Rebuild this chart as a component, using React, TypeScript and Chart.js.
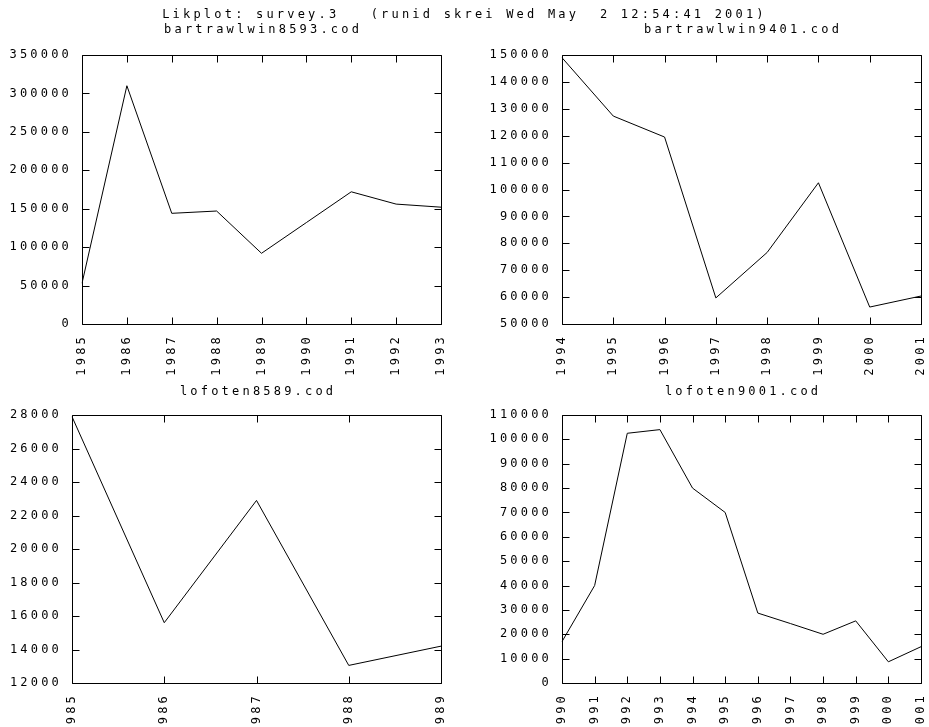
import React, { useEffect, useRef } from "react";
import { Chart, registerables } from "chart.js";

Chart.register(...registerables);

// ---------- data ----------
const MAIN_TITLE = "Likplot: survey.3   (runid skrei Wed May  2 12:54:41 2001)";

const tlTitle = "bartrawlwin8593.cod";
const tlYears = ["1985", "1986", "1987", "1988", "1989", "1990", "1991", "1992", "1993"];
const tlValues = [53000, 310000, 144000, 147000, 92000, 132000, 172000, 156000, 152000];
const tlYRange = [0, 350000, 50000];

const trTitle = "bartrawlwin9401.cod";
const trYears = ["1994", "1995", "1996", "1997", "1998", "1999", "2000", "2001"];
const trValues = [149000, 127300, 119500, 59700, 76600, 102500, 56300, 60400];
const trYRange = [50000, 150000, 10000];

const blTitle = "lofoten8589.cod";
const blYears = ["1985", "1986", "1987", "1988", "1989"];
const blValues = [27900, 15600, 22900, 13050, 14200];
const blYRange = [12000, 28000, 2000];

const brTitle = "lofoten9001.cod";
const brYears = ["1990", "1991", "1992", "1993", "1994", "1995", "1996", "1997", "1998", "1999", "2000", "2001"];
const brValues = [17000, 40000, 102500, 104000, 80000, 70000, 28700, 24400, 20000, 25500, 8700, 14900];
const brYRange = [0, 110000, 10000];

// ---------- styling ----------
const FONT_FAMILY = '"DejaVu Sans Mono", "Liberation Mono", monospace';
const FONT_SIZE = 12;
const LS = 3.2; // letter spacing px
const TICK_LEN = 7;

const spacingPlugin = {
  id: "gnuSpacing",
  beforeUpdate(chart: any) {
    chart.ctx.letterSpacing = LS + "px";
  },
  beforeLayout(chart: any) {
    chart.ctx.letterSpacing = LS + "px";
  },
  beforeDraw(chart: any) {
    chart.ctx.letterSpacing = LS + "px";
  },
};

const framePlugin = {
  id: "gnuFrame",
  afterDatasetsDraw(chart: any) {
    const { ctx, chartArea: a, scales } = chart;
    const al = (v: number) => Math.round(v) + 0.5;
    const L = al(a.left), R = al(a.right), T = al(a.top), B = al(a.bottom);
    ctx.save();
    ctx.strokeStyle = "#000";
    ctx.lineWidth = 1;
    ctx.beginPath();
    ctx.rect(L, T, R - L, B - T);
    const xs = scales.x;
    xs.ticks.forEach((_t: any, i: number) => {
      const px = al(xs.getPixelForTick(i));
      ctx.moveTo(px, B);
      ctx.lineTo(px, B - TICK_LEN);
      ctx.moveTo(px, T);
      ctx.lineTo(px, T + TICK_LEN);
    });
    const ys = scales.y;
    ys.ticks.forEach((t: any) => {
      const py = al(ys.getPixelForValue(t.value));
      ctx.moveTo(L, py);
      ctx.lineTo(L + TICK_LEN, py);
      ctx.moveTo(R, py);
      ctx.lineTo(R - TICK_LEN, py);
    });
    ctx.stroke();
    ctx.restore();
  },
};

const subtitlePlugin = {
  id: "gnuSubtitle",
  afterDraw(chart: any, _args: any, opts: any) {
    const { ctx, chartArea: a } = chart;
    ctx.save();
    ctx.letterSpacing = LS + "px";
    ctx.font = `${FONT_SIZE}px ${FONT_FAMILY}`;
    ctx.fillStyle = "#000";
    ctx.textAlign = "center";
    ctx.textBaseline = "middle";
    ctx.fillText(opts.text, (a.left + a.right) / 2 + LS / 2, opts.y);
    ctx.restore();
  },
};

type PanelProps = {
  left: number;
  top: number;
  width: number;
  height: number;
  yWidth: number;
  padRight: number;
  padTop: number;
  xHeight: number;
  title: string;
  titleY: number;
  labels: string[];
  values: number[];
  yRange: number[];
};

function Panel(p: PanelProps) {
  const ref = useRef<HTMLCanvasElement>(null);
  useEffect(() => {
    const font = { family: FONT_FAMILY, size: FONT_SIZE };
    const chart = new Chart(ref.current as HTMLCanvasElement, {
      type: "line",
      data: {
        labels: p.labels,
        datasets: [
          {
            data: p.values,
            borderColor: "#000",
            borderWidth: 1,
            pointRadius: 0,
            tension: 0,
            fill: false,
          },
        ],
      },
      options: {
        animation: false,
        responsive: false,
        devicePixelRatio: 1,
        layout: { padding: { left: 0, right: p.padRight, top: p.padTop, bottom: 0 } },
        plugins: {
          legend: { display: false },
          tooltip: { enabled: false },
          title: { display: false },
          gnuSubtitle: { text: p.title, y: p.titleY },
        } as any,
        scales: {
          x: {
            type: "category",
            grid: { display: false },
            border: { display: false },
            ticks: {
              autoSkip: false,
              minRotation: 90,
              maxRotation: 90,
              padding: 2,
              color: "#000",
              font,
            },
            afterFit: (s: any) => {
              s.height = p.xHeight;
              s.paddingLeft = 0;
              s.paddingRight = 0;
            },
          },
          y: {
            type: "linear",
            min: p.yRange[0],
            max: p.yRange[1],
            grid: { display: false },
            border: { display: false },
            ticks: {
              stepSize: p.yRange[2],
              padding: 2,
              color: "#000",
              font,
              callback: (v: any) => String(v),
            },
            afterFit: (s: any) => {
              s.width = p.yWidth;
              s.paddingTop = 0;
              s.paddingBottom = 0;
            },
          },
        },
      } as any,
      plugins: [spacingPlugin, framePlugin, subtitlePlugin],
    });
    return () => chart.destroy();
  }, []);
  return (
    <canvas
      ref={ref}
      width={p.width}
      height={p.height}
      style={{ position: "absolute", left: p.left, top: p.top, width: p.width, height: p.height }}
    />
  );
}

export default function App() {
  return (
    <div style={{ position: "absolute", left: 0, top: 0, width: 929, height: 727, background: "#fff", overflow: "hidden" }}>
      <Panel left={0} top={0} width={464} height={380} yWidth={82} padRight={23} padTop={55} xHeight={56}
        title={tlTitle} titleY={30} labels={tlYears} values={tlValues} yRange={tlYRange} />
      <Panel left={464} top={0} width={465} height={380} yWidth={98} padRight={8} padTop={55} xHeight={56}
        title={trTitle} titleY={30} labels={trYears} values={trValues} yRange={trYRange} />
      <Panel left={0} top={380} width={464} height={347} yWidth={72} padRight={23} padTop={35} xHeight={44}
        title={blTitle} titleY={12} labels={blYears} values={blValues} yRange={blYRange} />
      <Panel left={464} top={380} width={465} height={347} yWidth={98} padRight={8} padTop={35} xHeight={44}
        title={brTitle} titleY={12} labels={brYears} values={brValues} yRange={brYRange} />
      <div
        style={{
          position: "absolute",
          left: 0,
          top: 7,
          width: 929,
          textAlign: "center",
          font: `${FONT_SIZE}px ${FONT_FAMILY}`,
          letterSpacing: LS + "px",
          lineHeight: "14px",
          whiteSpace: "pre",
          color: "#000",
        }}
      >
        {MAIN_TITLE}
      </div>
    </div>
  );
}
